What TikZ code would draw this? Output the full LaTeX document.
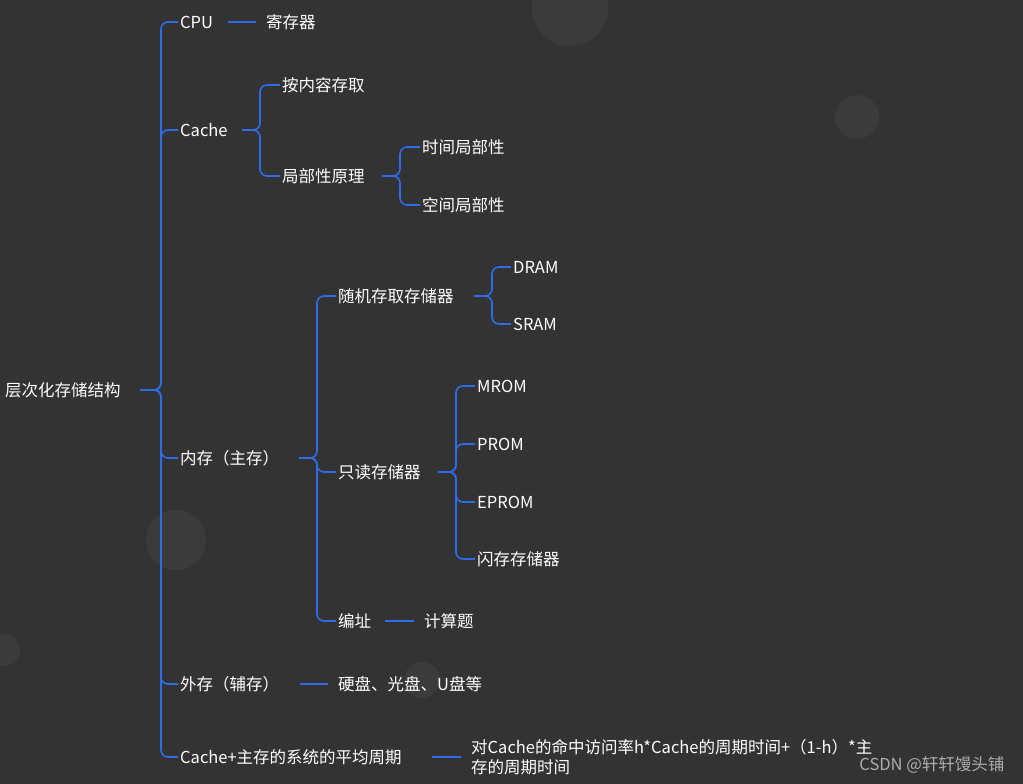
\documentclass[tikz,border=0pt]{standalone}
\usepackage{fontspec}
\setmainfont{Noto Sans CJK SC}
\begin{document}
\begin{tikzpicture}[x=1pt,y=-1pt,
  t/.style={anchor=west,inner sep=2pt,text=white,font=\fontsize{16.5}{20}\selectfont},
  ln/.style={draw=linkblue,line width=1.6pt},
  br/.style={ln,rounded corners=7pt}]
\definecolor{linkblue}{HTML}{2F6BEA}
\definecolor{bg}{HTML}{333333}
\definecolor{bub}{HTML}{3B3B3B}
\fill[bg] (0,0) rectangle (1023,784);
\useasboundingbox (0,0) rectangle (1023,784);
\fill[bub] (570,8) circle (38);
\fill[bub] (857,117) circle (22);
\fill[bub] (176,540) circle (30);
\fill[bub] (4,650) circle (16);
\fill[bub] (422,680) circle (18);
% nodes
\node[t] (root) at (3,390) {层次化存储结构};
\node[t] (cpu) at (178,22) {CPU};
\node[t] (reg) at (264,22) {寄存器};
\node[t] (cache) at (178,130) {Cache};
\node[t] (anc) at (280,85) {按内容存取};
\node[t] (loc) at (280,176) {局部性原理};
\node[t] (tl) at (420,147) {时间局部性};
\node[t] (sl) at (420,205) {空间局部性};
\node[t] (mem) at (178,458) {内存（主存）};
\node[t] (ram) at (336,296) {随机存取存储器};
\node[t] (dram) at (511,267) {DRAM};
\node[t] (sram) at (511,324) {SRAM};
\node[t] (rom) at (336,472) {只读存储器};
\node[t] (mrom) at (475,386) {MROM};
\node[t] (prom) at (475,444) {PROM};
\node[t] (eprom) at (475,502) {EPROM};
\node[t] (flash) at (475,559) {闪存存储器};
\node[t] (addr) at (336,621) {编址};
\node[t] (calc) at (422,621) {计算题};
\node[t] (ext) at (178,684) {外存（辅存）};
\node[t] (disk) at (336,684) {硬盘、光盘、U盘等};
\node[t] (avg) at (178,757) {Cache+主存的系统的平均周期};
\node[t,align=left] (form) at (469,757) {对Cache的命中访问率h*Cache的周期时间+（1-h）*主\\存的周期时间};
\node[anchor=east,text=white!60!bg,font=\fontsize{16.5}{20}\selectfont] (wm) at (1008,765) {CSDN @轩轩馒头铺};
% junctions
\coordinate (jr) at (155,390);
\coordinate (jc) at (254,130);
\coordinate (jl) at (394,176);
\coordinate (jm) at (311,458);
\coordinate (jram) at (486,296);
\coordinate (jrom) at (450,472);
\draw[ln] (140,390) -- (jr);
\foreach \c in {cpu,cache,mem,ext,avg} \draw[br] (jr) -- ++(6,0) |- (\c.west);
\draw[ln] (242,130) -- (jc);
\foreach \c in {anc,loc} \draw[br] (jc) -- ++(6,0) |- (\c.west);
\draw[ln] (382,176) -- (jl);
\foreach \c in {tl,sl} \draw[br] (jl) -- ++(6,0) |- (\c.west);
\draw[ln] (299,458) -- (jm);
\foreach \c in {ram,rom,addr} \draw[br] (jm) -- ++(6,0) |- (\c.west);
\draw[ln] (474,296) -- (jram);
\foreach \c in {dram,sram} \draw[br] (jram) -- ++(6,0) |- (\c.west);
\draw[ln] (438,472) -- (jrom);
\foreach \c in {mrom,prom,eprom,flash} \draw[br] (jrom) -- ++(6,0) |- (\c.west);
\draw[ln] (228,22) -- ([xshift=-8pt]reg.west);
\draw[ln] (385,621) -- ([xshift=-8pt]calc.west);
\draw[ln] (300,684) -- ([xshift=-8pt]disk.west);
\draw[ln] (432,757) -- ([xshift=-8pt]form.west);
\end{tikzpicture}
\end{document}
